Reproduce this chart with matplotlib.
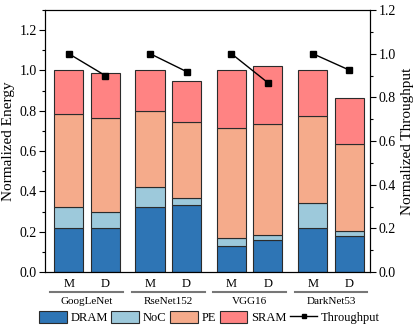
import matplotlib
matplotlib.use('agg')
import matplotlib.pyplot as plt
from matplotlib.patches import Patch
from matplotlib.lines import Line2D
from matplotlib.ticker import MultipleLocator
import matplotlib.transforms as mtransforms

plt.rcParams['font.family'] = ['Liberation Serif', 'DejaVu Serif']

networks = ['GoogLeNet', 'RseNet152', 'VGG16', 'DarkNet53']
configs = ['M', 'D']

# energy breakdown, per network: [M, D]
dram = [[0.217, 0.220], [0.321, 0.334], [0.131, 0.157], [0.218, 0.177]]
noc = [[0.104, 0.078], [0.102, 0.032], [0.036, 0.027], [0.126, 0.028]]
pe = [[0.462, 0.465], [0.377, 0.378], [0.546, 0.549], [0.429, 0.429]]
sram = [[0.217, 0.223], [0.200, 0.204], [0.287, 0.289], [0.227, 0.228]]
throughput = [[1.0, 0.90], [1.0, 0.918], [1.0, 0.867], [1.0, 0.925]]

parts = ['DRAM', 'NoC', 'PE', 'SRAM']
colors = ['#2E75B5', '#9DC9DB', '#F5AB8B', '#FF8383']
edge = '#2b2b2b'

step = 2.23
width = 0.8

fig = plt.figure(figsize=(4.15, 3.27), dpi=100)
ax = fig.add_axes([0.1084, 0.1682, 0.7832, 0.8012])
ax2 = ax.twinx()

xs = []
for g in range(len(networks)):
    pos = [g * step, g * step + 1]
    xs += pos
    bottom = [0.0, 0.0]
    for vals, c in zip([dram, noc, pe, sram], colors):
        ax.bar(pos, vals[g], width, bottom=bottom, color=c, edgecolor=edge, linewidth=0.8, zorder=2)
        bottom = [bottom[i] + vals[g][i] for i in range(2)]
    ax2.plot(pos, throughput[g], color='black', lw=1.0, marker='s', ms=4.5, zorder=3)

ax.set_xlim(-0.65, 3 * step + 1 + 0.57)
ax.set_ylim(0, 1.3)
ax2.set_ylim(0, 1.2)
ax.set_yticks([0, 0.2, 0.4, 0.6, 0.8, 1.0, 1.2])
ax2.set_yticks([0, 0.2, 0.4, 0.6, 0.8, 1.0, 1.2])
ax.yaxis.set_minor_locator(MultipleLocator(0.1))
ax2.yaxis.set_minor_locator(MultipleLocator(0.1))
ax.set_xticks(xs)
ax.set_xticklabels(configs * len(networks), fontsize=9)
ax.tick_params(axis='x', length=0, pad=4)
ax.tick_params(axis='y', which='major', length=4, width=0.8, labelsize=10, pad=2)
ax.tick_params(axis='y', which='minor', length=2.5, width=0.8)
ax2.tick_params(axis='y', which='major', length=4, width=0.8, labelsize=10, pad=2)
ax2.tick_params(axis='y', which='minor', length=2.5, width=0.8)
ax.set_ylabel('Normalized Energy', fontsize=11, labelpad=3)
ax2.set_ylabel('Normalized Throughput', fontsize=11, labelpad=4)
for a in (ax, ax2):
    for s in a.spines.values():
        s.set_linewidth(0.8)

trans = mtransforms.blended_transform_factory(ax.transData, ax.transAxes)
for g, name in enumerate(networks):
    x0 = g * step - 0.5
    x1 = g * step + 1.5
    ax.plot([x0, x1], [-0.075, -0.075], color='#777777', lw=1.5, transform=trans, clip_on=False)
    ax.text((x0 + x1) / 2, -0.113, name, transform=trans, ha='center', va='center', fontsize=8)

handles = [Patch(facecolor=c, edgecolor=edge, linewidth=0.8) for c in colors]
handles.append(Line2D([], [], color='black', lw=1.0, marker='s', ms=3.5))
fig.legend(handles, parts + ['Throughput'], loc='center', bbox_to_anchor=(0.505, 0.028),
           ncol=5, frameon=False, fontsize=9, handlelength=2.2, handleheight=1.05,
           handletextpad=0.3, columnspacing=0.3, borderpad=0, borderaxespad=0)

fig.savefig('out.png', dpi=100)
